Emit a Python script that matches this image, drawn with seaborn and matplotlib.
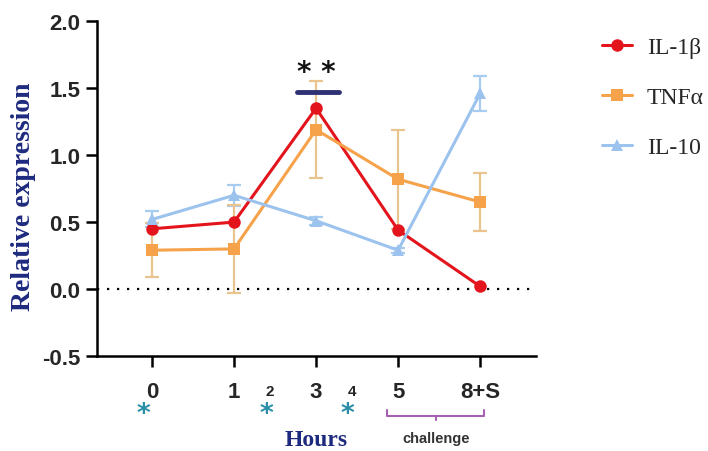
import matplotlib
matplotlib.use("Agg")
import matplotlib.pyplot as plt
import matplotlib.transforms as mtransforms
import numpy as np
import pandas as pd
import seaborn as sns

# time points (hours) and mean expression
hours = ["0", "1", "3", "5", "8+S"]
il1b = [0.45, 0.50, 1.35, 0.44, 0.02]
tnfa = [0.29, 0.30, 1.19, 0.82, 0.65]
tnfa_err = [0.20, 0.33, 0.36, 0.37, 0.22]
il10 = [0.52, 0.70, 0.51, 0.29, 1.46]
il10_err = [0.06, 0.08, 0.03, 0.02, 0.13]

genes = ["IL-1β", "TNFα", "IL-10"]
colors = {"IL-1β": "#E3141C", "TNFα": "#F6A24A", "IL-10": "#9CC2EE"}
err_colors = {"TNFα": "#EAC48E", "IL-10": "#A8CBF0"}
markers = {"IL-1β": "o", "TNFα": "s", "IL-10": "^"}

pos = np.arange(len(hours))
df = pd.DataFrame({
    "pos": np.tile(pos, 3),
    "value": il1b + tnfa + il10,
    "gene": np.repeat(genes, len(hours)),
})

sns.set_style("ticks")
plt.rcParams["font.family"] = ["Liberation Sans", "DejaVu Sans"]

fig = plt.figure(figsize=(7.08, 4.52), dpi=100)
ax = fig.add_axes([0.137, 0.21, 0.62, 0.741])

# error bars first so lines sit on top
ax.errorbar(pos, il10, yerr=il10_err, fmt="none", ecolor=err_colors["IL-10"],
            elinewidth=1.6, capsize=5, capthick=1.6, zorder=1)
ax.errorbar(pos, tnfa, yerr=tnfa_err, fmt="none", ecolor=err_colors["TNFα"],
            elinewidth=1.6, capsize=5, capthick=1.6, zorder=1)

sns.lineplot(data=df, x="pos", y="value", hue="gene", style="gene",
             hue_order=genes, style_order=genes, palette=colors,
             markers=markers, dashes=False, linewidth=2.2, markersize=9,
             markeredgewidth=0, ax=ax, zorder=3)

ax.axhline(0, color="black", linestyle=(0, (1, 3.5)), linewidth=1.6, zorder=0)

# significance bar at 3 h
ax.plot([1.77, 2.28], [1.47, 1.47], color="#2E3275", linewidth=3.5, zorder=4)
ax.text(2.0, 1.62, "* *", ha="center", va="center", fontsize=20,
        fontweight="bold", color="#111111", family="DejaVu Sans")

ax.set_xlim(-0.67, 4.68)
ax.set_ylim(-0.5, 2.0)
ax.set_yticks([-0.5, 0.0, 0.5, 1.0, 1.5, 2.0])
ax.set_yticklabels(["-0.5", "0.0", "0.5", "1.0", "1.5", "2.0"])
ax.set_xticks(pos)
ax.set_xticklabels(hours)
for lab in ax.get_xticklabels() + ax.get_yticklabels():
    lab.set_fontweight("bold")
    lab.set_fontsize(16)
ax.tick_params(axis="both", length=8, width=1.8, color="black", pad=4)
ax.tick_params(axis="x", pad=10)
sns.despine(ax=ax)
for side in ["left", "bottom"]:
    ax.spines[side].set_linewidth(1.8)
    ax.spines[side].set_color("black")

ax.set_xlabel("")
ax.set_ylabel("Relative expression", family="Liberation Serif",
              fontweight="bold", fontsize=20, color="#1E2A7E")
ax.yaxis.set_label_coords(-0.138, 0.48)

trans = mtransforms.blended_transform_factory(ax.transData, ax.transAxes)
# intermediate hour marks
for x, t in [(1.44, "2"), (2.44, "4")]:
    ax.text(x, -0.105, t, transform=trans, ha="center", va="center",
            fontsize=11, fontweight="bold")
# teal asterisks under the axis
for x in [-0.1, 1.40, 2.38]:
    ax.text(x, -0.172, "*", transform=trans, ha="center", va="center",
            fontsize=19, fontweight="bold", color="#2A8EA6",
            family="DejaVu Sans")

# challenge bracket
bx0, bx1, by = 2.87, 4.05, -0.18
ax.plot([bx0, bx0, bx1, bx1], [by + 0.02, by, by, by + 0.02],
        transform=trans, color="#A660B4", linewidth=1.5, clip_on=False)
ax.plot([(bx0 + bx1) / 2] * 2, [by, by - 0.012], transform=trans,
        color="#A660B4", linewidth=1.5, clip_on=False)
ax.text((bx0 + bx1) / 2, -0.245, "challenge", transform=trans, ha="center",
        va="center", fontsize=10.5, fontweight="bold", color="#333333")

ax.text(2.0, -0.248, "Hours", transform=trans, ha="center", va="center",
        family="Liberation Serif", fontweight="bold", fontsize=17,
        color="#1E2A7E")

handles, labels = ax.get_legend_handles_labels()
ax.legend_.remove()
fig.legend(handles, labels, loc="upper left", bbox_to_anchor=(0.85, 0.917),
           frameon=False, prop={"family": "Liberation Serif", "size": 17},
           handlelength=1.3, handletextpad=0.6, labelspacing=1.2,
           borderpad=0, borderaxespad=0)

fig.savefig("out.png", dpi=100)
